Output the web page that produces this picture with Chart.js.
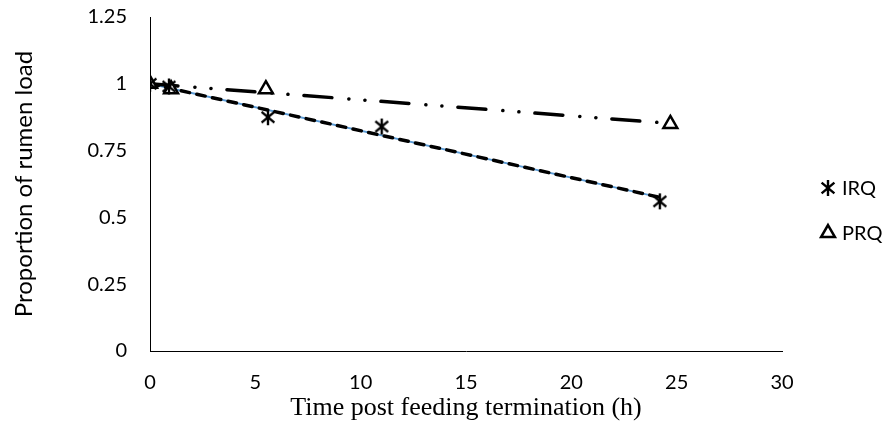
<!DOCTYPE html>
<html>
<head>
<meta charset="utf-8">
<script src="https://cdn.jsdelivr.net/npm/chart.js@4.4.1/dist/chart.umd.min.js"></script>
<style>
html, body { margin: 0; padding: 0; background: #fff; }
</style>
</head>
<body>
<canvas id="myChart" width="886" height="425"></canvas>
<script>
// hours after feeding stopped / proportion of rumen load
const irqHours = [0, 0.9, 5.6, 11, 24.2];
const irqLoad = [1, 0.99, 0.875, 0.84, 0.56];
const prqHours = [0, 1, 5.5, 24.7];
const prqLoad = [1, 0.98, 0.98, 0.85];

// linear trend lines, ends
const irqTrendHours = [0, 24.2];
const irqTrendLoad = [1, 0.575];
const prqTrendHours = [0, 24.7];
const prqTrendLoad = [1, 0.852];

const xTicks = [0, 5, 10, 15, 20, 25, 30];
const yTicks = [0, 0.25, 0.5, 0.75, 1, 1.25];
const seriesNames = ['IRQ', 'PRQ'];

function pairs(xs, ys) {
    return xs.map((x, i) => ({ x: x, y: ys[i] }));
}

// Excel style star marker: vertical bar plus an X
function makeAsterisk(size, lw) {
    let c = document.createElement('canvas');
    c.width = size; c.height = size;
    let g = c.getContext('2d');
    let r = size / 2 - 1;
    g.strokeStyle = '#000';
    g.lineWidth = lw;
    g.translate(size / 2, size / 2);
    g.beginPath();
    g.moveTo(0, -r);
    g.lineTo(0, r);
    let d = r * 0.8;
    g.moveTo(-d, -d * 0.85);
    g.lineTo(d, d * 0.85);
    g.moveTo(d, -d * 0.85);
    g.lineTo(-d, d * 0.85);
    g.stroke();
    return c;
}
const asterisk = makeAsterisk(18, 2.4);

Chart.defaults.font.family = 'Lato';
Chart.defaults.color = '#000';

// legend on the right, markers only
const sideLegend = {
    id: 'sideLegend',
    afterDraw(chart) {
        let ctx = chart.ctx;
        let area = chart.chartArea;
        let x = area.right + 46;
        let y = (area.top + area.bottom) / 2 + 4;
        ctx.save();
        chart.data.datasets.forEach(ds => {
            if (!seriesNames.includes(ds.label)) return;
            ctx.fillStyle = '#fff';
            ctx.strokeStyle = '#000';
            ctx.lineWidth = ds.pointBorderWidth;
            Chart.helpers.drawPoint(ctx, {
                pointStyle: ds.pointStyle, radius: ds.pointRadius,
                borderWidth: ds.pointBorderWidth, rotation: 0
            }, x, y);
            ctx.fillStyle = '#000';
            ctx.font = '20px Lato';
            ctx.textBaseline = 'middle';
            ctx.textAlign = 'left';
            ctx.fillText(ds.label, x + 14, y + 1);
            y += 45;
        });
        ctx.restore();
    }
};

let ctx = document.getElementById('myChart').getContext('2d');
let chart = new Chart(ctx, {
    type: 'scatter',
    data: {
        datasets: [{
            label: 'IRQ',
            data: pairs(irqHours, irqLoad),
            pointStyle: asterisk,
            pointRadius: 8,
            pointBorderWidth: 0,
            showLine: false,
            order: 0
        }, {
            label: 'PRQ',
            data: pairs(prqHours, prqLoad),
            pointStyle: 'triangle',
            pointRadius: 8,
            pointBorderWidth: 2.5,
            pointBackgroundColor: '#fff',
            pointBorderColor: '#000',
            showLine: false,
            order: 0
        }, {
            label: 'irq line',
            data: pairs(irqTrendHours, irqTrendLoad),
            showLine: true,
            borderColor: '#5B9BD5',
            borderWidth: 2,
            pointRadius: 0,
            order: 2
        }, {
            label: 'irq trend',
            data: pairs(irqTrendHours, irqTrendLoad),
            showLine: true,
            borderColor: '#000',
            borderWidth: 3.5,
            borderDash: [8.5, 7.5],
            borderCapStyle: 'round',
            pointRadius: 0,
            order: 1
        }, {
            label: 'prq trend',
            data: pairs(prqTrendHours, prqTrendLoad),
            showLine: true,
            borderColor: '#000',
            borderWidth: 3.5,
            borderDash: [28, 17, 0.1, 16, 0.1, 16],
            borderCapStyle: 'round',
            pointRadius: 0,
            order: 1
        }]
    },
    options: {
        responsive: false,
        animation: false,
        events: [],
        layout: { padding: { left: 4, right: 104, top: 17, bottom: 0 } },
        plugins: {
            legend: { display: false },
            tooltip: { enabled: false }
        },
        scales: {
            x: {
                type: 'linear',
                min: 0,
                max: 30,
                afterBuildTicks: s => { s.ticks = xTicks.map(v => ({ value: v })); },
                afterFit: s => { s.height = 74; },
                grid: { display: false, drawTicks: false },
                border: { display: true, color: '#000', width: 1 },
                ticks: { padding: 20, font: { size: 20 }, callback: v => String(v) },
                title: {
                    display: true,
                    text: 'Time post feeding termination (h)',
                    font: { family: 'Liberation Serif', size: 26 },
                    padding: { top: 0, bottom: 1 }
                }
            },
            y: {
                min: 0,
                max: 1.25,
                afterBuildTicks: s => { s.ticks = yTicks.map(v => ({ value: v })); },
                afterFit: s => { s.width = 146; s.paddingTop = 0; },
                grid: { display: false, drawTicks: false },
                border: { display: true, color: '#000', width: 1 },
                ticks: { padding: 23, font: { size: 20 }, callback: v => String(v) },
                title: {
                    display: true,
                    text: 'Proportion of rumen load',
                    font: { size: 24 },
                    padding: { top: 6, bottom: 0 }
                }
            }
        }
    },
    plugins: [sideLegend]
});
</script>
</body>
</html>
